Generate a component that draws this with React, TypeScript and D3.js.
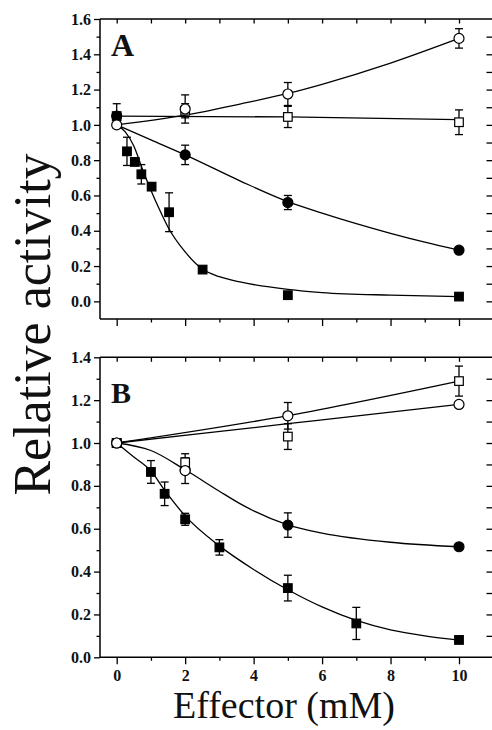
import { useEffect, useRef } from "react";
import * as d3 from "d3";

// ---- Panel A data ----
const aFilledCircleX = [0, 2, 5, 10];
const aFilledCircleY = [1.05, 0.83, 0.56, 0.29];
const aFilledCircleErr = [0.07, 0.055, 0.04, 0.01];

const aOpenCircleX = [0, 2, 5, 10];
const aOpenCircleY = [1.0, 1.09, 1.175, 1.49];
const aOpenCircleErr = [0, 0.08, 0.065, 0.055];

const aOpenSquareX = [0, 2, 5, 10];
const aOpenSquareY = [1.05, 1.08, 1.045, 1.015];
const aOpenSquareErr = [0, 0.04, 0.06, 0.07];

const aFilledSquareX = [0.3, 0.53, 0.72, 1.02, 1.53, 2.51, 5, 10];
const aFilledSquareY = [0.85, 0.79, 0.72, 0.65, 0.505, 0.18, 0.035, 0.027];
const aFilledSquareErr = [0.08, 0, 0.055, 0, 0.11, 0, 0, 0];

// fitted curves
const aFilledCircleFit = [[0, 1.0], [1, 0.915], [2, 0.83], [3.6, 0.683], [5, 0.565], [6, 0.5], [7, 0.44], [8, 0.385], [9, 0.335], [10, 0.29]];
const aOpenCircleFit = [[0, 1.0], [2, 1.055], [3.6, 1.118], [5, 1.178], [6, 1.23], [8, 1.35], [10, 1.49]];
const aOpenSquareFit = [[0, 1.05], [5, 1.045], [10, 1.03]];
const aFilledSquareFit = [[0, 1.0], [0.25, 0.96], [0.5, 0.88], [0.75, 0.75], [1, 0.63], [1.25, 0.52], [1.5, 0.42], [2, 0.28], [2.5, 0.183], [3, 0.14], [3.6, 0.11], [5, 0.068], [6, 0.05], [8, 0.035], [10, 0.027]];

// ---- Panel B data ----
const bFilledSquareX = [0, 1, 1.4, 2, 3, 5, 7, 10];
const bFilledSquareY = [1.0, 0.865, 0.763, 0.644, 0.513, 0.323, 0.158, 0.081];
const bFilledSquareErr = [0, 0.053, 0.055, 0.028, 0.036, 0.06, 0.075, 0];

const bFilledCircleX = [0, 2, 5, 10];
const bFilledCircleY = [1.0, 0.875, 0.617, 0.516];
const bFilledCircleErr = [0, 0, 0.057, 0];

const bOpenCircleX = [0, 2, 5, 10];
const bOpenCircleY = [1.0, 0.871, 1.127, 1.18];
const bOpenCircleErr = [0, 0.06, 0.062, 0];

const bOpenSquareX = [0, 2, 5, 10];
const bOpenSquareY = [1.0, 0.91, 1.03, 1.289];
const bOpenSquareErr = [0, 0.04, 0.06, 0.07];

const bUpperFit = [[0, 1.0], [5, 1.128], [10, 1.289]];
const bLowerFit = [[0, 1.0], [5, 1.09], [10, 1.18]];
const bFilledCircleFit = [[0, 1.0], [1, 0.965], [2, 0.875], [3, 0.775], [3.6, 0.717], [5, 0.618], [6, 0.58], [8, 0.537], [10, 0.516]];
const bFilledSquareFit = [[0, 1.0], [0.5, 0.935], [1, 0.87], [1.4, 0.78], [2, 0.66], [3, 0.52], [4, 0.41], [5, 0.315], [6, 0.235], [7, 0.172], [8, 0.128], [9, 0.1], [10, 0.08]];

// ---- axes ----
const xMajor = [0, 2, 4, 6, 8, 10];
const xAll = [0, 1, 2, 3, 4, 5, 6, 7, 8, 9, 10];
const aYMajor = [0, 0.2, 0.4, 0.6, 0.8, 1.0, 1.2, 1.4, 1.6];
const bYMajor = [0, 0.2, 0.4, 0.6, 0.8, 1.0, 1.2, 1.4];

const serif = "'Liberation Serif', 'Times New Roman', serif";

export default function App() {
  const svgRef = useRef(null);

  useEffect(() => {
    const width = 492;
    const height = 730;
    const svg = d3.select(svgRef.current);
    svg.selectAll("*").remove();
    svg.attr("width", width).attr("height", height);

    const frameLeft = 100;
    const frameRight = 492; // the right spine is cropped off in the original
    const x = d3.scaleLinear().domain([0, 10]).range([116.7, 459]);

    const zip = (xs, ys, es) => xs.map((v, i) => ({ x: v, y: ys[i], e: es[i] }));

    function panel(cfg) {
      const { y, top, bottom, yMajor, yMinorFrom, yMinorTo, showXLabels, letter, letterSize, letterY } = cfg;
      const g = svg.append("g");

      // frame: left, top, bottom spines only
      const spine = g.append("g").attr("stroke", "#000").attr("stroke-width", 1.5);
      spine.append("line").attr("x1", frameLeft).attr("x2", frameLeft).attr("y1", top).attr("y2", bottom);
      spine.append("line").attr("x1", frameLeft).attr("x2", frameRight).attr("y1", top).attr("y2", top);
      spine.append("line").attr("x1", frameLeft).attr("x2", frameRight).attr("y1", bottom).attr("y2", bottom);

      const minors = d3.range(yMinorFrom, yMinorTo + 0.001, 0.2).map((d) => +d.toFixed(2));
      const allY = d3.range(Math.round(yMinorFrom * 10) - 1, Math.round(yMajor[yMajor.length - 1] * 10) + 1).map((d) => d / 10)
        .filter((d) => y(d) > top + 0.5 && y(d) <= bottom - 0.5);

      // left axis major
      const left = g.append("g")
        .attr("transform", `translate(${frameLeft},0)`)
        .call(d3.axisLeft(y).tickValues(yMajor).tickSize(6).tickPadding(3).tickFormat(d3.format(".1f")));
      left.select(".domain").remove();
      // left minor
      const leftMinor = g.append("g")
        .attr("transform", `translate(${frameLeft},0)`)
        .call(d3.axisLeft(y).tickValues(minors).tickSize(3.5).tickFormat(() => ""));
      leftMinor.select(".domain").remove();

      // right axis ticks (inward)
      const right = g.append("g")
        .attr("transform", `translate(${frameRight},0)`)
        .call(d3.axisRight(y).tickValues(allY).tickSize(-5.5).tickFormat(() => ""));
      right.select(".domain").remove();

      // top axis (inward)
      const topAx = g.append("g")
        .attr("transform", `translate(0,${top})`)
        .call(d3.axisTop(x).tickValues(xAll).tickSize(-4.5).tickFormat(() => ""));
      topAx.select(".domain").remove();

      // bottom axis
      const bot = g.append("g")
        .attr("transform", `translate(0,${bottom})`)
        .call(d3.axisBottom(x).tickValues(xMajor).tickSize(7).tickPadding(5)
          .tickFormat(showXLabels ? d3.format("d") : () => ""));
      bot.select(".domain").remove();
      const botMinor = g.append("g")
        .attr("transform", `translate(0,${bottom})`)
        .call(d3.axisBottom(x).tickValues(xAll.filter((d) => d % 2 === 1)).tickSize(3.5).tickFormat(() => ""));
      botMinor.select(".domain").remove();

      g.selectAll(".tick line").attr("stroke", "#000").attr("stroke-width", 1.3);
      g.selectAll(".tick text")
        .attr("fill", "#111")
        .attr("font-family", serif)
        .attr("font-weight", "bold")
        .attr("font-size", 16);

      // panel letter
      g.append("text")
        .attr("x", 111)
        .attr("y", letterY)
        .attr("font-family", serif)
        .attr("font-weight", "bold")
        .attr("font-size", letterSize)
        .attr("fill", "#111")
        .text(letter);

      const line = d3.line()
        .x((d) => x(d[0]))
        .y((d) => y(d[1]))
        .curve(d3.curveMonotoneX);

      cfg.fits.forEach((f) => {
        g.append("path")
          .datum(f)
          .attr("d", line)
          .attr("fill", "none")
          .attr("stroke", "#000")
          .attr("stroke-width", 1.3);
      });

      cfg.series.forEach((s) => {
        const pts = zip(s.x, s.y, s.err).filter((p) => p.e > 0);
        const eb = g.append("g").attr("stroke", "#000").attr("stroke-width", 1.3);
        pts.forEach((p) => {
          const cx = x(p.x);
          eb.append("line").attr("x1", cx).attr("x2", cx).attr("y1", y(p.y + p.e)).attr("y2", y(p.y - p.e));
          eb.append("line").attr("x1", cx - 4).attr("x2", cx + 4).attr("y1", y(p.y + p.e)).attr("y2", y(p.y + p.e));
          eb.append("line").attr("x1", cx - 4).attr("x2", cx + 4).attr("y1", y(p.y - p.e)).attr("y2", y(p.y - p.e));
        });
      });

      cfg.series.forEach((s) => {
        const pts = zip(s.x, s.y, s.err);
        const fill = s.filled ? "#000" : "#fff";
        if (s.shape === "circle") {
          g.append("g")
            .selectAll("circle")
            .data(pts)
            .join("circle")
            .attr("cx", (d) => x(d.x))
            .attr("cy", (d) => y(d.y))
            .attr("r", 5)
            .attr("fill", fill)
            .attr("stroke", "#000")
            .attr("stroke-width", 1.2);
        } else {
          const side = 8.6;
          g.append("g")
            .selectAll("rect")
            .data(pts)
            .join("rect")
            .attr("x", (d) => x(d.x) - side / 2)
            .attr("y", (d) => y(d.y) - side / 2)
            .attr("width", side)
            .attr("height", side)
            .attr("fill", fill)
            .attr("stroke", "#000")
            .attr("stroke-width", 1.2);
        }
      });
    }

    const yA = d3.scaleLinear().domain([-0.1, 1.6]).range([319, 19]);
    panel({
      y: yA,
      top: 19,
      bottom: 319,
      yMajor: aYMajor,
      yMinorFrom: 0.1,
      yMinorTo: 1.5,
      showXLabels: false,
      letter: "A",
      letterSize: 32,
      letterY: 56,
      fits: [aFilledSquareFit, aFilledCircleFit, aOpenCircleFit, aOpenSquareFit],
      series: [
        { x: aOpenSquareX, y: aOpenSquareY, err: aOpenSquareErr, shape: "square", filled: false },
        { x: aFilledSquareX, y: aFilledSquareY, err: aFilledSquareErr, shape: "square", filled: true },
        { x: aFilledCircleX, y: aFilledCircleY, err: aFilledCircleErr, shape: "circle", filled: true },
        { x: aOpenCircleX, y: aOpenCircleY, err: aOpenCircleErr, shape: "circle", filled: false },
      ],
    });

    const yB = d3.scaleLinear().domain([0, 1.4]).range([657.3, 357.3]);
    panel({
      y: yB,
      top: 357.3,
      bottom: 657.3,
      yMajor: bYMajor,
      yMinorFrom: 0.1,
      yMinorTo: 1.3,
      showXLabels: true,
      letter: "B",
      letterSize: 30,
      letterY: 403,
      fits: [bFilledSquareFit, bFilledCircleFit, bUpperFit, bLowerFit],
      series: [
        { x: bFilledCircleX, y: bFilledCircleY, err: bFilledCircleErr, shape: "circle", filled: true },
        { x: bOpenSquareX, y: bOpenSquareY, err: bOpenSquareErr, shape: "square", filled: false },
        { x: bFilledSquareX, y: bFilledSquareY, err: bFilledSquareErr, shape: "square", filled: true },
        { x: bOpenCircleX, y: bOpenCircleY, err: bOpenCircleErr, shape: "circle", filled: false },
      ],
    });

    // axis titles
    svg.append("text")
      .attr("transform", "translate(50,324.5) rotate(-90)")
      .attr("text-anchor", "middle")
      .attr("font-family", serif)
      .attr("font-size", 52)
      .attr("fill", "#111")
      .text("Relative activity");

    svg.append("text")
      .attr("x", 284)
      .attr("y", 718)
      .attr("text-anchor", "middle")
      .attr("font-family", serif)
      .attr("font-size", 38)
      .attr("fill", "#111")
      .text("Effector (mM)");
  }, []);

  return (
    <svg
      ref={svgRef}
      style={{ position: "absolute", left: 0, top: 0, background: "#fff" }}
    />
  );
}
